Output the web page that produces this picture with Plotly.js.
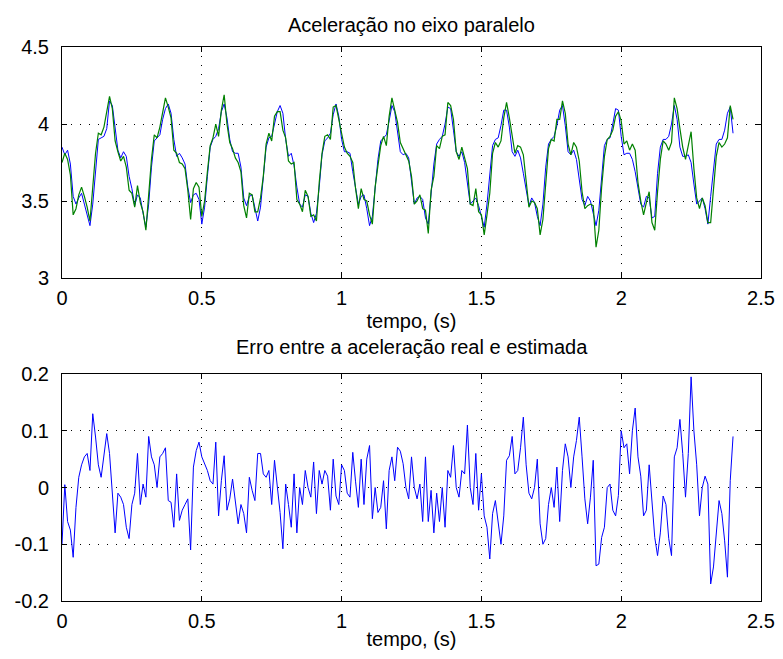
<!DOCTYPE html>
<html>
<head>
<meta charset="utf-8">
<script src="https://cdn.plot.ly/plotly-3.0.1.min.js"></script>
<style>html,body{margin:0;padding:0;background:#fff;}#chart{width:783px;height:659px;}</style>
</head>
<body>
<div id="chart"></div>
<script>
// sampling interval of the recorded signals (s)
const dt = 0.01;

// Top plot: estimated acceleration (blue)
const estimada = [
3.85,3.80,3.83,3.74,3.53,3.48,3.52,3.55,3.48,3.40,3.34,
3.48,3.72,3.90,3.91,3.92,3.97,4.15,4.12,3.97,3.83,
3.78,3.82,3.79,3.66,3.58,3.47,3.54,3.52,3.42,3.33,
3.48,3.72,3.89,3.91,3.93,4.03,4.10,4.13,4.07,3.90,
3.79,3.81,3.78,3.74,3.59,3.49,3.54,3.55,3.51,3.35,
3.46,3.66,3.85,3.90,3.92,3.97,4.08,4.13,4.04,3.90,
3.82,3.81,3.81,3.72,3.52,3.47,3.53,3.54,3.45,3.37,
3.46,3.64,3.85,3.91,3.92,4.00,4.08,4.12,4.07,3.90,
3.79,3.81,3.73,3.59,3.48,3.46,3.54,3.53,3.42,3.36,
3.42,3.59,3.80,3.89,3.91,3.94,4.06,4.13,4.05,3.90,
3.82,3.82,3.81,3.69,3.57,3.48,3.53,3.54,3.45,3.34,
3.40,3.59,3.77,3.89,3.91,3.93,4.02,4.12,4.08,3.94,
3.82,3.80,3.81,3.78,3.61,3.48,3.52,3.53,3.51,3.39,
3.35,3.57,3.74,3.87,3.90,3.92,4.00,4.11,4.10,3.96,
3.82,3.79,3.82,3.75,3.60,3.48,3.50,3.52,3.47,3.39,
3.33,3.48,3.68,3.86,3.90,3.91,3.99,4.09,4.09,3.98,
3.82,3.79,3.83,3.78,3.68,3.57,3.47,3.52,3.49,3.40,
3.34,3.48,3.72,3.87,3.90,3.92,3.99,4.09,4.12,3.99,
3.82,3.80,3.83,3.77,3.64,3.51,3.47,3.53,3.50,3.42,
3.34,3.44,3.68,3.86,3.90,3.91,4.00,4.10,4.09,3.92,
3.80,3.81,3.81,3.77,3.69,3.57,3.48,3.46,3.53,3.52,
3.39,3.40,3.68,3.85,3.90,3.90,3.92,4.00,4.12,4.03,
3.85,3.79,3.79,3.80,3.75,3.61,3.48,3.50,3.52,3.45,
3.35,3.53,3.72,3.87,3.90,3.90,3.96,4.07,4.11,3.94
];

// Top plot: real (measured) acceleration (green)
const real = [
3.75,3.81,3.77,3.67,3.41,3.45,3.54,3.59,3.53,3.46,3.37,
3.61,3.81,3.94,3.93,3.98,4.07,4.18,4.10,3.89,3.82,
3.76,3.79,3.72,3.57,3.55,3.46,3.60,3.49,3.43,3.31,
3.57,3.77,3.93,3.91,3.98,4.09,4.17,4.11,4.04,3.83,
3.81,3.75,3.74,3.71,3.57,3.38,3.58,3.62,3.59,3.40,
3.50,3.69,3.86,3.91,4.00,3.92,4.09,4.19,4.00,3.88,
3.84,3.78,3.75,3.69,3.47,3.39,3.55,3.54,3.43,3.43,
3.52,3.66,3.87,3.94,3.89,4.05,4.08,4.08,3.96,3.91,
3.76,3.74,3.75,3.51,3.48,3.43,3.57,3.53,3.40,3.41,
3.37,3.62,3.81,3.92,3.93,3.90,4.11,4.12,4.02,3.94,
3.85,3.81,3.79,3.75,3.58,3.45,3.58,3.51,3.50,3.41,
3.35,3.59,3.73,3.86,3.92,3.86,4.05,4.17,4.09,4.01,
3.88,3.84,3.81,3.76,3.66,3.48,3.50,3.54,3.45,3.44,
3.29,3.57,3.66,3.86,3.84,3.92,3.93,4.14,4.12,4.03,
3.82,3.77,3.85,3.77,3.71,3.48,3.47,3.58,3.43,3.41,
3.28,3.41,3.55,3.81,3.88,3.85,3.89,4.04,4.14,4.04,
3.91,3.81,3.86,3.85,3.80,3.61,3.46,3.50,3.49,3.45,
3.28,3.38,3.63,3.84,3.90,3.89,4.03,4.03,4.15,4.07,
3.87,3.80,3.88,3.85,3.76,3.56,3.45,3.47,3.48,3.47,
3.20,3.31,3.59,3.79,3.90,3.92,3.96,4.05,4.08,4.02,
3.87,3.89,3.83,3.87,3.83,3.62,3.50,3.41,3.49,3.56,
3.36,3.31,3.56,3.77,3.89,3.87,3.83,3.88,4.17,4.10,
3.97,3.85,3.77,3.86,3.95,3.71,3.52,3.45,3.52,3.47,
3.36,3.36,3.58,3.79,3.88,3.85,3.87,3.91,4.12,4.03
];

// Bottom plot: error between real and estimated acceleration
const erro = [
-0.10,0.005,-0.06,-0.075,-0.123,-0.035,0.018,0.04,0.054,0.06,0.03,
0.13,0.089,0.04,0.018,0.06,0.095,0.06,-0.017,-0.08,-0.01,
-0.017,-0.03,-0.07,-0.09,-0.03,-0.01,0.06,-0.03,0.006,-0.017,
0.09,0.054,0.04,0.0,0.054,0.06,0.07,-0.023,-0.026,-0.07,
0.024,-0.058,-0.04,-0.03,-0.02,-0.11,0.036,0.065,0.08,0.054,
0.04,0.03,0.012,0.006,0.08,-0.05,0.012,0.056,-0.04,-0.02,
0.015,-0.03,-0.064,-0.03,-0.046,-0.08,0.018,-0.005,-0.023,0.06,
0.06,0.024,0.018,0.03,-0.03,0.048,0.0,-0.044,-0.108,0.006,
-0.03,-0.07,0.024,-0.08,0.0,-0.03,0.03,0.0,-0.017,0.045,
-0.046,0.03,0.006,0.03,0.02,-0.04,0.05,-0.015,-0.03,0.04,
0.03,-0.01,-0.017,0.062,0.01,-0.035,0.05,-0.03,0.05,0.074,
-0.055,0.0,-0.044,-0.035,0.012,-0.073,0.03,0.054,0.012,0.071,
0.064,0.042,0.0,-0.02,0.054,0.0,-0.02,0.006,-0.06,0.054,
-0.06,-0.005,-0.08,-0.01,-0.06,0.0,-0.07,0.03,0.018,0.074,
0.0,-0.017,0.03,0.024,0.11,0.0,-0.03,0.06,-0.04,0.024,
-0.05,-0.07,-0.126,-0.046,-0.023,-0.058,-0.10,-0.05,0.048,0.056,
0.09,0.024,0.03,0.07,0.124,0.04,-0.01,-0.02,0.0,0.05,
-0.064,-0.10,-0.09,-0.03,0.0,-0.035,0.036,-0.06,0.03,0.077,
0.054,0.0,0.054,0.083,0.124,0.054,-0.02,-0.064,-0.017,0.048,
-0.138,-0.135,-0.088,-0.07,0.0,0.006,-0.04,-0.05,-0.014,0.10,
0.07,0.077,0.024,0.10,0.14,0.054,0.02,-0.05,-0.04,0.04,
-0.03,-0.088,-0.12,-0.08,-0.015,-0.03,-0.09,-0.12,0.054,0.07,
0.12,0.06,-0.017,0.06,0.195,0.10,0.04,-0.05,0.0,0.02,
0.006,-0.17,-0.14,-0.076,-0.023,-0.046,-0.094,-0.158,0.012,0.09
];

const xTicks = [0, 0.5, 1, 1.5, 2, 2.5];
const xTickText = ['0', '0.5', '1', '1.5', '2', '2.5'];
const yTopTicks = [3, 3.5, 4, 4.5];
const yTopText = ['3', '3.5', '4', '4.5'];
const yBotTicks = [-0.2, -0.1, 0, 0.1, 0.2];
const yBotText = ['-0.2', '-0.1', '0', '0.1', '0.2'];

const tituloSup = 'Aceleração no eixo paralelo';
const tituloInf = 'Erro entre a aceleração real e estimada';
const rotuloX = 'tempo, (s)';

const tempo = estimada.map((_, i) => +(i * dt).toFixed(2));

const FONT = 'Liberation Sans, Arial, Helvetica, sans-serif';
const FS = 20;

const traces = [
  {x: tempo, y: estimada, type: 'scatter', mode: 'lines', xaxis: 'x', yaxis: 'y',
   line: {color: '#0000ff', width: 1}, hoverinfo: 'skip'},
  {x: tempo, y: real, type: 'scatter', mode: 'lines', xaxis: 'x', yaxis: 'y',
   line: {color: '#008000', width: 1.2}, hoverinfo: 'skip'},
  {x: tempo, y: erro, type: 'scatter', mode: 'lines', xaxis: 'x2', yaxis: 'y2',
   line: {color: '#0000ff', width: 1}, hoverinfo: 'skip'}
];

function xAxis(anchor, standoff) {
  return {
    anchor: anchor, domain: [0, 1], range: [0, 2.5],
    tickmode: 'array', tickvals: xTicks, ticktext: xTickText,
    ticks: 'inside', ticklen: 5, tickcolor: '#000', tickwidth: 1,
    ticklabelstandoff: 2,
    showline: true, mirror: 'ticks', linecolor: '#000', linewidth: 1,
    showgrid: true, gridcolor: '#000', griddash: '1px,8px', gridwidth: 1,
    zeroline: false, tickfont: {family: FONT, size: FS, color: '#000'},
    title: {text: rotuloX, font: {family: FONT, size: FS, color: '#000'}, standoff: standoff}
  };
}
function yAxis(anchor, domain, range, tv, tt) {
  return {
    anchor: anchor, domain: domain, range: range,
    tickmode: 'array', tickvals: tv, ticktext: tt,
    ticks: 'inside', ticklen: 5, tickcolor: '#000', tickwidth: 1,
    ticklabelstandoff: 8,
    showline: true, mirror: 'ticks', linecolor: '#000', linewidth: 1,
    showgrid: true, gridcolor: '#000', griddash: '1px,8px', gridwidth: 1,
    zeroline: false, tickfont: {family: FONT, size: FS, color: '#000'}
  };
}

const layout = {
  width: 783, height: 659,
  margin: {l: 62, r: 22, t: 47, b: 58},
  paper_bgcolor: '#fff', plot_bgcolor: '#fff',
  showlegend: false,
  font: {family: FONT, size: FS, color: '#000'},
  xaxis: xAxis('y', 5),
  yaxis: yAxis('x', [0.583, 1], [3, 4.5], yTopTicks, yTopText),
  xaxis2: xAxis('y2', 0),
  yaxis2: yAxis('x2', [0, 0.4097], [-0.2, 0.2], yBotTicks, yBotText),
  annotations: [
    {text: tituloSup, xref: 'paper', yref: 'paper', x: 0.5, y: 1.0397,
     xanchor: 'center', yanchor: 'middle', showarrow: false,
     font: {family: FONT, size: FS, color: '#000'}},
    {text: tituloInf, xref: 'paper', yref: 'paper', x: 0.5, y: 0.4585,
     xanchor: 'center', yanchor: 'middle', showarrow: false,
     font: {family: FONT, size: FS, color: '#000'}}
  ]
};

Plotly.newPlot('chart', traces, layout, {displayModeBar: false, staticPlot: true});
</script>
</body>
</html>
